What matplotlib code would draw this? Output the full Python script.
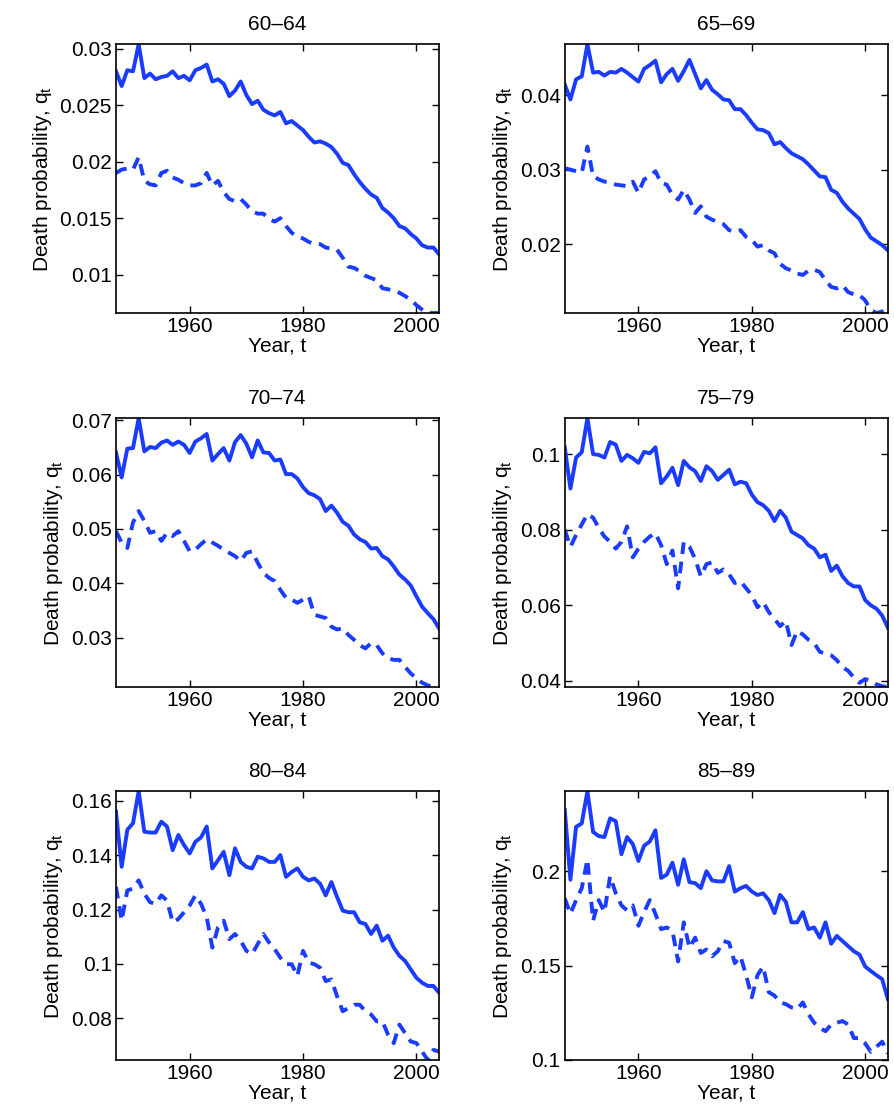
import matplotlib
matplotlib.use("Agg")
import matplotlib.pyplot as plt
import numpy as np

years = list(range(1947, 2005))
titles = ["60\u201364", "65\u201369", "70\u201374", "75\u201379", "80\u201384", "85\u201389"]

solid_6064 = [0.028,0.0267,0.0281,0.028,0.0304,0.0274,0.0278,0.0273,0.0275,0.0276,0.028,0.0274,0.0276,0.0272,0.0281,0.0283,0.0286,0.0271,0.0273,0.0269,0.0258,0.0263,0.0271,0.0259,0.0251,0.0254,0.0246,0.0243,0.0241,0.0244,0.0234,0.0236,0.0232,0.0228,0.0222,0.0217,0.0218,0.0216,0.0213,0.0207,0.0199,0.0197,0.0189,0.0182,0.0176,0.0171,0.0168,0.0159,0.0155,0.015,0.0143,0.0141,0.0136,0.0132,0.0126,0.0124,0.0124,0.0118]
dash_6064 = [0.019,0.0193,0.0194,0.0193,0.0204,0.0183,0.018,0.0179,0.019,0.0192,0.0186,0.0184,0.0181,0.0179,0.0179,0.0181,0.019,0.0179,0.0183,0.0173,0.0167,0.0165,0.0167,0.0162,0.0156,0.0154,0.0154,0.0149,0.0147,0.015,0.0143,0.0137,0.0134,0.0132,0.0129,0.0127,0.0127,0.0124,0.0123,0.0122,0.0115,0.0107,0.0106,0.0103,0.0099,0.0097,0.0095,0.0088,0.0087,0.0086,0.0084,0.0081,0.0078,0.0073,0.0069,0.0066,0.0066,0.0066]

solid_6569 = [0.0414,0.0394,0.0421,0.0425,0.0468,0.043,0.0431,0.0426,0.0431,0.043,0.0435,0.043,0.0424,0.0418,0.0435,0.044,0.0446,0.0417,0.0428,0.0435,0.0419,0.0432,0.0447,0.0428,0.0409,0.042,0.0407,0.0401,0.0394,0.0393,0.0381,0.0381,0.0373,0.0363,0.0354,0.0353,0.0349,0.0334,0.0337,0.0329,0.0322,0.0318,0.0314,0.0307,0.0299,0.0291,0.029,0.0273,0.0269,0.0257,0.0248,0.0241,0.0234,0.022,0.0209,0.0204,0.0199,0.0192]
dash_6569 = [0.0302,0.03,0.0298,0.0296,0.0331,0.0291,0.0287,0.0284,0.0283,0.028,0.0279,0.0278,0.0284,0.0269,0.0287,0.0291,0.0298,0.0282,0.028,0.0266,0.026,0.0273,0.026,0.0242,0.0251,0.0237,0.0233,0.023,0.0227,0.0219,0.0217,0.0219,0.021,0.0206,0.0197,0.0199,0.0192,0.0188,0.0174,0.0168,0.0165,0.0161,0.0159,0.0165,0.0166,0.0163,0.0152,0.0143,0.0141,0.0145,0.0136,0.0133,0.0132,0.0125,0.0112,0.0108,0.011,0.0114]

solid_7074 = [0.0641,0.0595,0.0648,0.0649,0.0704,0.0643,0.0651,0.0649,0.0659,0.0663,0.0655,0.0661,0.0655,0.064,0.0661,0.0667,0.0675,0.0626,0.0638,0.0649,0.0626,0.066,0.0673,0.0657,0.0632,0.0663,0.0641,0.064,0.0626,0.0628,0.0601,0.0601,0.0593,0.0577,0.0566,0.0562,0.0555,0.0533,0.0543,0.053,0.0513,0.0506,0.049,0.0481,0.0476,0.0464,0.0465,0.045,0.0444,0.0431,0.0416,0.0407,0.0396,0.0376,0.0357,0.0345,0.0334,0.0317]
dash_7074 = [0.0496,0.0475,0.0465,0.0512,0.0533,0.0515,0.0493,0.0496,0.0478,0.0493,0.0487,0.0496,0.0478,0.0459,0.0462,0.0472,0.0481,0.0475,0.0469,0.0462,0.0456,0.045,0.0441,0.0456,0.0459,0.0438,0.0419,0.041,0.0404,0.0388,0.0373,0.037,0.0364,0.037,0.0376,0.0342,0.0339,0.0336,0.032,0.0315,0.0317,0.0305,0.0296,0.0286,0.028,0.029,0.0286,0.0271,0.0262,0.0259,0.0259,0.0246,0.0234,0.0225,0.0217,0.0212,0.0209,0.0209]

solid_7579 = [0.1018,0.0909,0.0991,0.1005,0.1095,0.1,0.0998,0.0991,0.1032,0.1025,0.0982,0.0998,0.0989,0.0977,0.1006,0.1002,0.1018,0.0923,0.0941,0.0964,0.0918,0.0982,0.0965,0.0955,0.0929,0.0968,0.0955,0.0932,0.0945,0.0959,0.092,0.0927,0.0923,0.0893,0.0873,0.0865,0.085,0.0823,0.085,0.0832,0.0795,0.0786,0.0777,0.0759,0.075,0.0727,0.0734,0.0691,0.0705,0.0677,0.0659,0.065,0.065,0.0614,0.06,0.0591,0.0573,0.0541]
dash_7579 = [0.08,0.0755,0.0786,0.0814,0.0841,0.0832,0.0805,0.0782,0.0768,0.075,0.0768,0.0809,0.0727,0.075,0.0768,0.0782,0.0791,0.0759,0.0709,0.0745,0.0645,0.0768,0.0755,0.0723,0.0677,0.0709,0.0714,0.0686,0.0695,0.0682,0.0659,0.0664,0.0645,0.0627,0.0595,0.0609,0.0582,0.0564,0.0545,0.0559,0.0495,0.0532,0.0523,0.0509,0.05,0.0477,0.0473,0.0468,0.0455,0.0436,0.0427,0.0409,0.0395,0.0405,0.04,0.0391,0.0386,0.0384]

solid_8084 = [0.156,0.1357,0.1493,0.1517,0.1635,0.1486,0.1483,0.1483,0.1523,0.1505,0.1418,0.1474,0.1437,0.1406,0.1449,0.1465,0.1505,0.1351,0.1381,0.1412,0.1326,0.1425,0.1375,0.1357,0.1351,0.1394,0.1388,0.1375,0.1375,0.14,0.132,0.1338,0.1351,0.132,0.1307,0.1314,0.1295,0.1252,0.1301,0.1246,0.1196,0.119,0.119,0.1153,0.1147,0.111,0.1141,0.1085,0.1104,0.106,0.103,0.1011,0.098,0.0949,0.0931,0.0919,0.0919,0.0894]
dash_8084 = [0.1283,0.1159,0.127,0.1277,0.1307,0.1258,0.1227,0.1221,0.1252,0.1233,0.1153,0.1165,0.119,0.1215,0.1252,0.1221,0.1172,0.106,0.1135,0.1159,0.1091,0.111,0.1085,0.1048,0.1036,0.1073,0.111,0.1079,0.1054,0.1023,0.0999,0.0999,0.0956,0.1048,0.1005,0.0999,0.0986,0.0937,0.0943,0.0881,0.0826,0.0838,0.085,0.085,0.0826,0.0814,0.0789,0.0789,0.074,0.0709,0.0777,0.0746,0.0715,0.0709,0.0678,0.0647,0.0684,0.0678]

solid_8589 = [0.2325,0.1955,0.2235,0.2253,0.2424,0.2208,0.2186,0.2181,0.228,0.2265,0.209,0.2181,0.2144,0.2054,0.2135,0.2157,0.2217,0.1964,0.1982,0.2045,0.1928,0.2063,0.1942,0.1937,0.191,0.2,0.1951,0.1946,0.1946,0.2027,0.1892,0.191,0.1922,0.1892,0.1874,0.1883,0.1847,0.1778,0.1874,0.1838,0.1729,0.1729,0.1783,0.1693,0.1702,0.1648,0.1729,0.1616,0.1657,0.163,0.1603,0.1576,0.1558,0.1495,0.1471,0.1449,0.1428,0.1323]
dash_8589 = [0.1856,0.1774,0.1847,0.191,0.2063,0.1738,0.1847,0.1783,0.1973,0.1883,0.1819,0.1792,0.1819,0.1711,0.1783,0.1847,0.1774,0.1693,0.1702,0.1684,0.1522,0.1729,0.1594,0.1648,0.1567,0.1585,0.1549,0.1576,0.163,0.1621,0.1513,0.1549,0.1449,0.1332,0.1449,0.1495,0.1359,0.1341,0.1305,0.1296,0.1278,0.1269,0.1305,0.1242,0.1197,0.117,0.1152,0.1188,0.1197,0.1206,0.1188,0.1116,0.1116,0.1088,0.1043,0.107,0.1097,0.1034]

solids = [solid_6064, solid_6569, solid_7074, solid_7579, solid_8084, solid_8589]
dashes = [dash_6064, dash_6569, dash_7074, dash_7579, dash_8084, dash_8589]
yticks = [[0.01,0.015,0.02,0.025,0.03],[0.02,0.03,0.04],[0.03,0.04,0.05,0.06,0.07],
          [0.04,0.06,0.08,0.1],[0.08,0.1,0.12,0.14,0.16],[0.1,0.15,0.2]]
xticks = [1960, 1980, 2000]

plt.rcParams['font.family'] = ['Liberation Sans', 'DejaVu Sans']
plt.rcParams['mathtext.fontset'] = 'custom'
plt.rcParams['mathtext.rm'] = 'Liberation Sans'
plt.rcParams['mathtext.it'] = 'Liberation Sans'
fig = plt.figure(figsize=(8.95, 11.2), dpi=100)
color = '#1a3cff'
lefts = [0.1296, 0.631]
bottoms = [0.7205, 0.3866, 0.0536]
for i in range(6):
    r, c = divmod(i, 2)
    ax = fig.add_axes([lefts[c], bottoms[r], 0.361, 0.240])
    ax.plot(years, solids[i], '-', color=color, lw=2.8)
    ax.plot(years, dashes[i], '--', color=color, lw=2.8, dashes=(3.0, 2.0))
    allv = solids[i] + dashes[i]
    ax.set_xlim(years[0], years[-1])
    ax.set_ylim(min(allv), max(allv))
    ax.set_xticks(xticks)
    ax.set_yticks(yticks[i])
    ax.set_yticklabels(['%g' % v for v in yticks[i]])
    ax.tick_params(direction='in', top=True, right=True, labelsize=15, length=5, width=1, pad=3)
    for s in ax.spines.values():
        s.set_linewidth(1.2)
    ax.set_title(titles[i], fontsize=15, pad=10)
    ax.set_xlabel('Year, t', fontsize=15, labelpad=0)
    ax.set_ylabel('Death probability, $q_t$', fontsize=15, labelpad=4)

fig.savefig('out.png', dpi=100)
